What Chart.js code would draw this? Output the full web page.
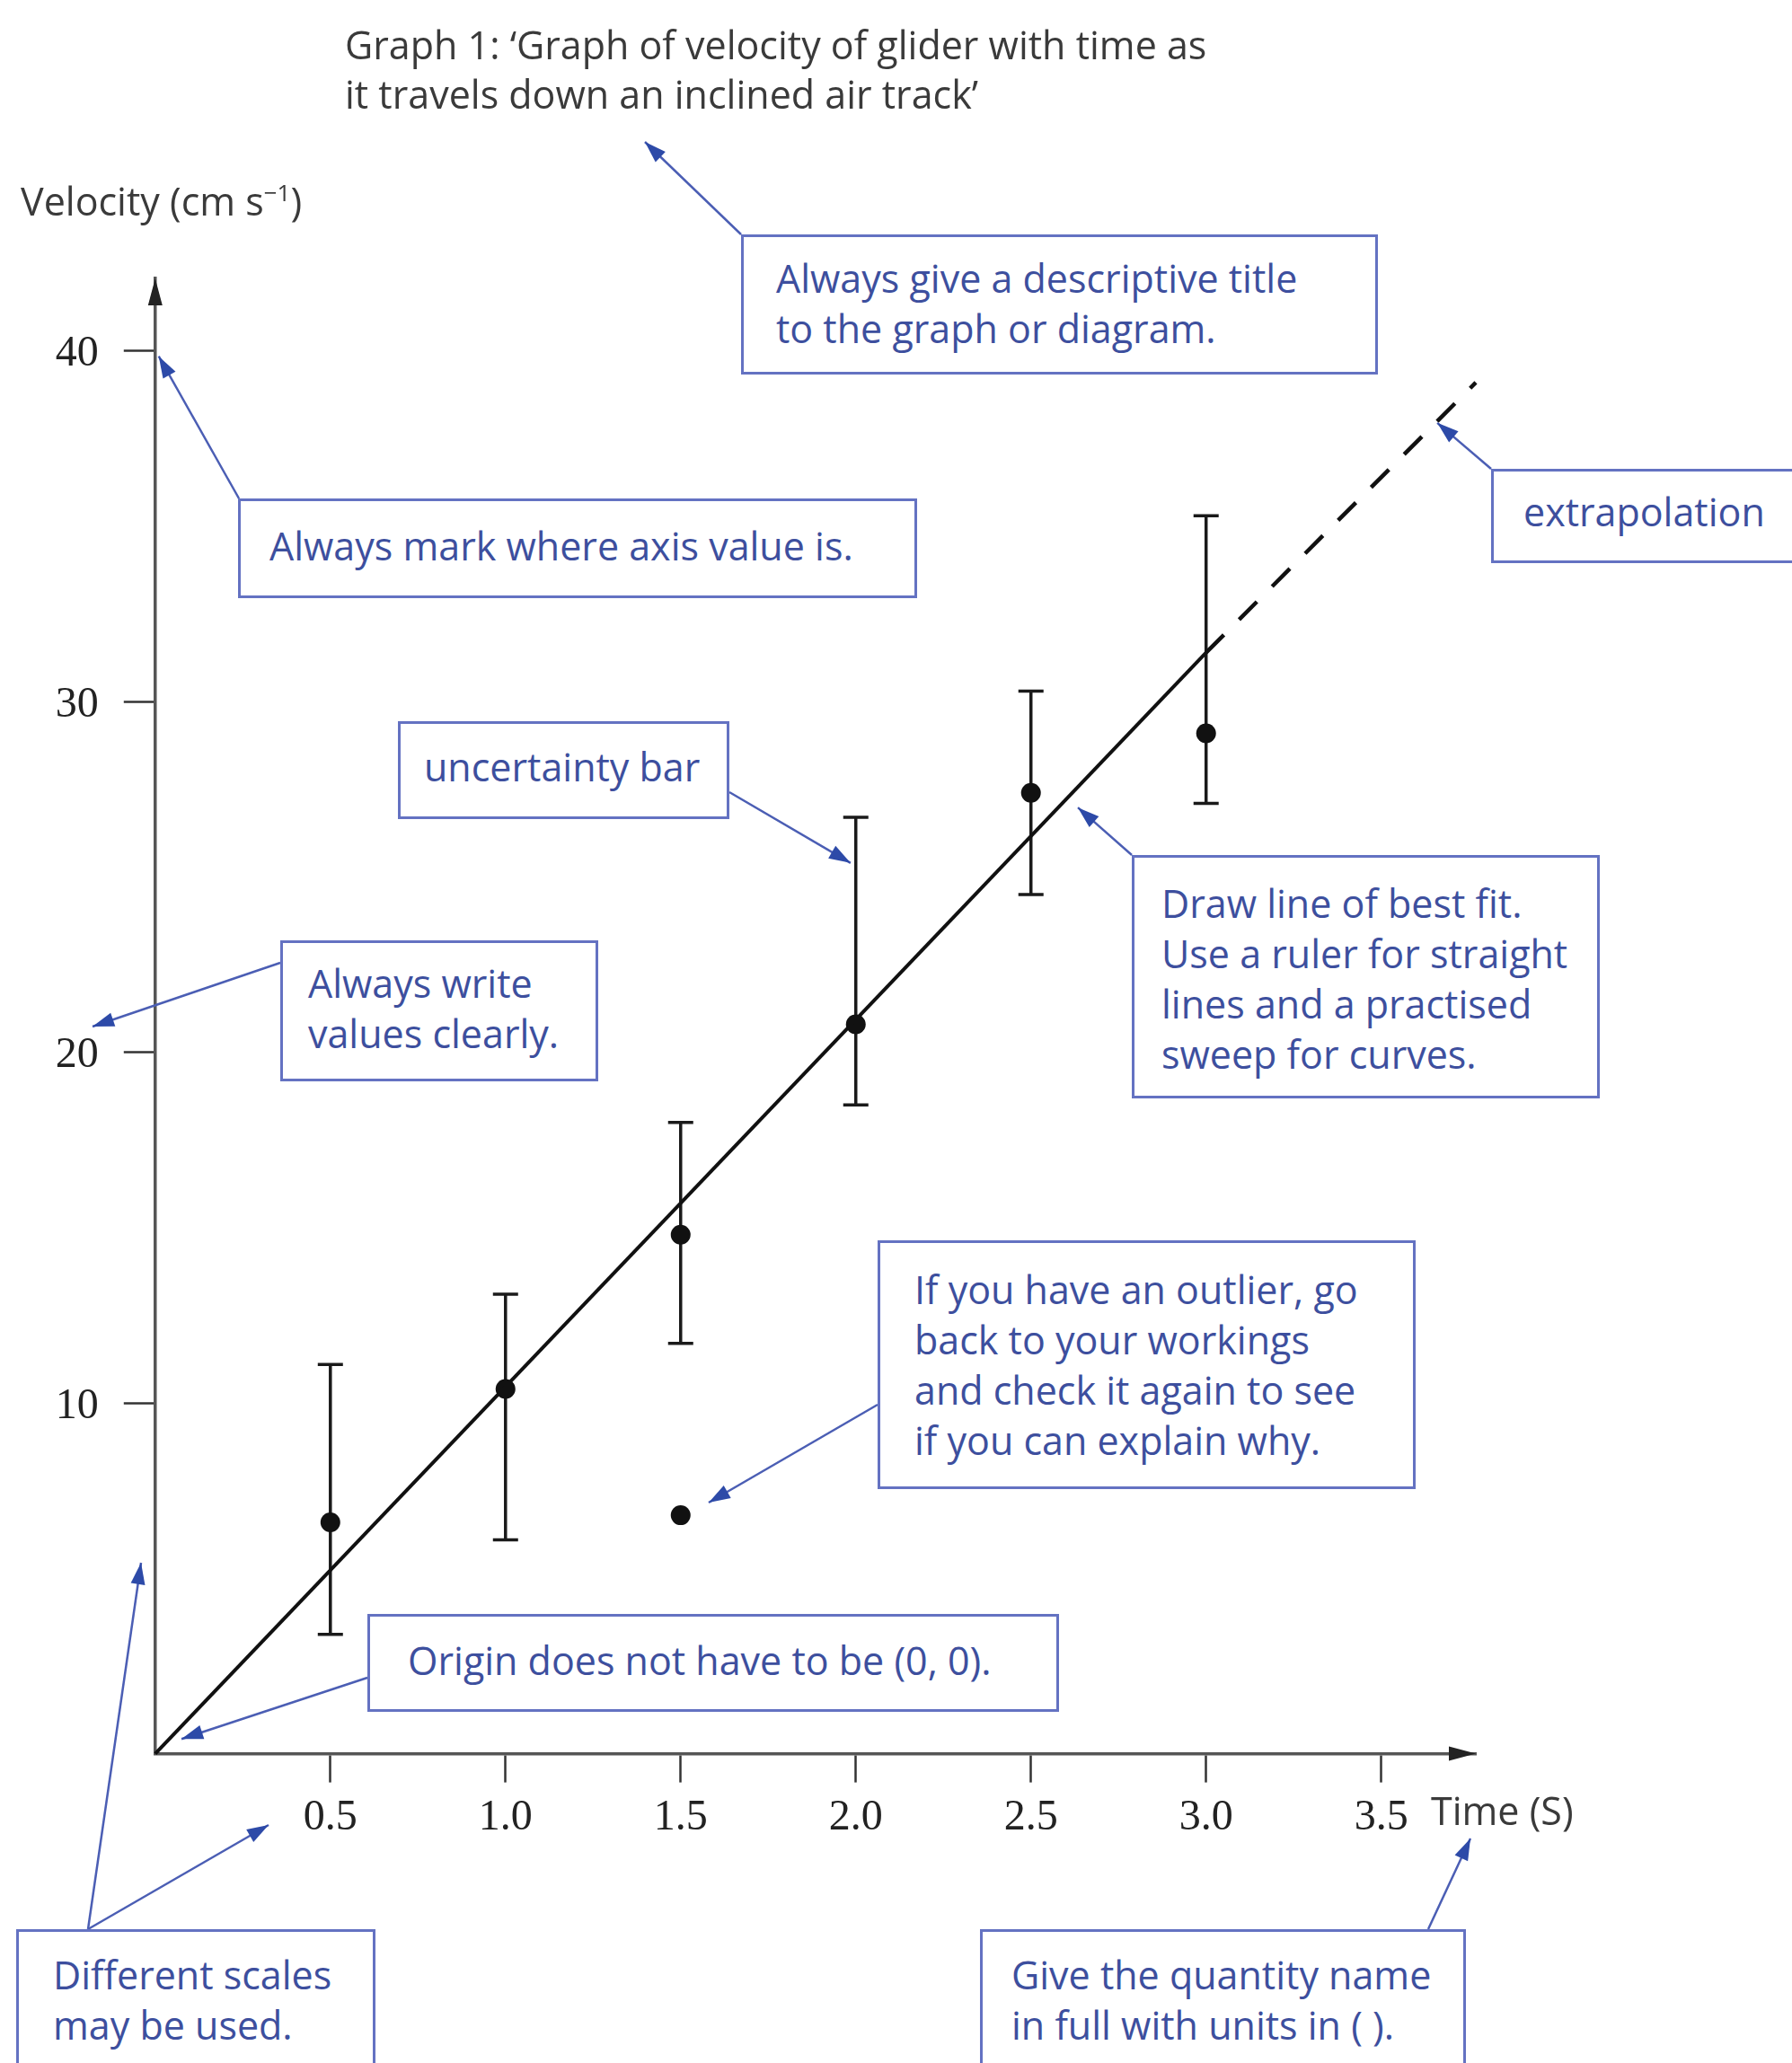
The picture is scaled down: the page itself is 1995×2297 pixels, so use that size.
<!DOCTYPE html>
<html>
<head>
<meta charset="utf-8">
<script src="https://cdn.jsdelivr.net/npm/chart.js@4.4.1/dist/chart.umd.min.js"></script>
<style>
  body { margin: 0; background: #fff; }
  #wrap { position: relative; width: 1995px; height: 2297px; overflow: hidden; font-family: "Open Sans", sans-serif; }
  #chart { position: absolute; left: 0; top: 0; }
  .note { position: absolute; box-sizing: border-box; border: 3px solid #6472c2; background: #fff;
          color: #3d4f9e; font-size: 43px; line-height: 56px; white-space: nowrap; }
  .lbl { position: absolute; color: #3a3a3a; font-size: 43px; line-height: 55px; white-space: nowrap; }
  sup { font-size: 26px; line-height: 0; vertical-align: 16px; }
</style>
</head>
<body>
<div id="wrap">
  <canvas id="chart" width="1995" height="2297"></canvas>

  <div class="lbl" style="left:384px; top:22px;">Graph 1: ‘Graph of velocity of glider with time as<br>it travels down an inclined air track’</div>
  <div class="lbl" style="left:23px; top:196px;">Velocity (cm s<sup>−1</sup>)</div>
  <div class="lbl" style="left:1593px; top:1988px;">Time (S)</div>

  <div class="note" style="left:825px; top:261px; width:709px; height:156px; padding:18px 0 0 36px;">Always give a descriptive title<br>to the graph or diagram.</div>
  <div class="note" style="left:265px; top:555px; width:756px; height:111px; padding:22px 0 0 32px;">Always mark where axis value is.</div>
  <div class="note" style="left:1660px; top:522px; width:400px; height:105px; padding:17px 0 0 33px;">extrapolation</div>
  <div class="note" style="left:443px; top:803px; width:369px; height:109px; padding:20px 0 0 26px;">uncertainty bar</div>
  <div class="note" style="left:1260px; top:952px; width:521px; height:271px; padding:23px 0 0 30px;">Draw line of best fit.<br>Use a ruler for straight<br>lines and a practised<br>sweep for curves.</div>
  <div class="note" style="left:312px; top:1047px; width:354px; height:157px; padding:17px 0 0 28px;">Always write<br>values clearly.</div>
  <div class="note" style="left:977px; top:1381px; width:599px; height:277px; padding:24px 0 0 38px;">If you have an outlier, go<br>back to your workings<br>and check it again to see<br>if you can explain why.</div>
  <div class="note" style="left:409px; top:1797px; width:770px; height:109px; padding:21px 0 0 42px;">Origin does not have to be (0, 0).</div>
  <div class="note" style="left:18px; top:2148px; width:400px; height:200px; padding:20px 0 0 38px;">Different scales<br>may be used.</div>
  <div class="note" style="left:1091px; top:2148px; width:541px; height:200px; padding:20px 0 0 32px;">Give the quantity name<br>in full with units in ( ).</div>
</div>

<script>
// ---------- data ----------
const timeS = [0.5, 1.0, 1.5, 2.0, 2.5, 3.0];
const velocity = [6.6, 10.4, 14.8, 20.8, 27.4, 29.1];
const errLow = [3.4, 6.1, 11.7, 18.5, 24.5, 27.1];
const errHigh = [11.1, 13.1, 18.0, 26.7, 30.3, 35.3];

const outlierTime = [1.5];
const outlierVelocity = [6.8];

// line of best fit and its dashed extrapolation
const fitTime = [0, 3.0];
const fitVelocity = [0, 31.4];
const extrapTime = [3.0, 3.77];
const extrapVelocity = [31.4, 39.1];

const xTicks = [0.5, 1.0, 1.5, 2.0, 2.5, 3.0, 3.5];
const yTicks = [10, 20, 30, 40];

// ---------- annotation arrows (tail in page px, tip in px or data units) ----------
const arrows = [
  { from: [825, 261], toPx: [718, 158] },
  { from: [266, 555], toData: [0.01, 39.85] },
  { from: [1660, 522], toData: [3.66, 37.95] },
  { from: [812, 882], toData: [1.985, 25.4] },
  { from: [1260, 952], toData: [2.634, 26.98] },
  { from: [312, 1072], toPx: [103, 1143] },
  { from: [977, 1564], toData: [1.58, 7.16] },
  { from: [409, 1868], toData: [0.075, 0.42] },
  { from: [98, 2148], toPx: [157, 1740] },
  { from: [98, 2148], toPx: [299, 2032] },
  { from: [1590, 2148], toPx: [1637, 2047] }
];

const toPoints = (xs, ys) => xs.map((x, i) => ({ x: x, y: ys[i] }));

// draw a filled arrowhead at (x2, y2) pointing away from (x1, y1)
function arrowHead(ctx, x1, y1, x2, y2, len, half) {
  const a = Math.atan2(y2 - y1, x2 - x1);
  ctx.beginPath();
  ctx.moveTo(x2, y2);
  ctx.lineTo(x2 - len * Math.cos(a) + half * Math.sin(a), y2 - len * Math.sin(a) - half * Math.cos(a));
  ctx.lineTo(x2 - len * Math.cos(a) - half * Math.sin(a), y2 - len * Math.sin(a) + half * Math.cos(a));
  ctx.closePath();
  ctx.fill();
}

// uncertainty bars, drawn under the points
const errorBars = {
  id: 'errorBars',
  beforeDatasetsDraw(chart) {
    const { ctx, scales: { x, y } } = chart;
    ctx.save();
    ctx.strokeStyle = '#1a1a1a';
    ctx.lineWidth = 3.5;
    timeS.forEach((t, i) => {
      const px = x.getPixelForValue(t);
      const top = y.getPixelForValue(errHigh[i]);
      const bot = y.getPixelForValue(errLow[i]);
      ctx.beginPath();
      ctx.moveTo(px, top); ctx.lineTo(px, bot);
      ctx.moveTo(px - 14, top); ctx.lineTo(px + 14, top);
      ctx.moveTo(px - 14, bot); ctx.lineTo(px + 14, bot);
      ctx.stroke();
    });
    ctx.restore();
  }
};

// arrowheads on the axes and the blue pointer arrows
const extras = {
  id: 'extras',
  afterDraw(chart) {
    const { ctx, chartArea: area, scales: { x, y } } = chart;
    ctx.save();
    ctx.fillStyle = '#222';
    arrowHead(ctx, area.left, area.bottom, area.right, area.bottom, 30, 8);
    arrowHead(ctx, area.left, area.bottom, area.left, area.top, 30, 8);

    ctx.strokeStyle = '#4b5eb4';
    ctx.fillStyle = '#2d4aa8';
    ctx.lineWidth = 2.5;
    arrows.forEach(a => {
      const [x1, y1] = a.from;
      const x2 = a.toData ? x.getPixelForValue(a.toData[0]) : a.toPx[0];
      const y2 = a.toData ? y.getPixelForValue(a.toData[1]) : a.toPx[1];
      ctx.beginPath();
      ctx.moveTo(x1, y1);
      ctx.lineTo(x2, y2);
      ctx.stroke();
      arrowHead(ctx, x1, y1, x2, y2, 24, 8);
    });
    ctx.restore();
  }
};

new Chart(document.getElementById('chart'), {
  type: 'scatter',
  data: {
    datasets: [
      {
        label: 'Line of best fit',
        data: toPoints(fitTime, fitVelocity),
        showLine: true,
        borderColor: '#111',
        borderWidth: 4,
        pointRadius: 0,
        clip: false
      },
      {
        label: 'Extrapolation',
        data: toPoints(extrapTime, extrapVelocity),
        showLine: true,
        borderColor: '#111',
        borderWidth: 4.5,
        borderDash: [28, 24],
        pointRadius: 0,
        clip: false
      },
      {
        label: 'Measured',
        data: toPoints(timeS, velocity),
        pointRadius: 11,
        pointBackgroundColor: '#111',
        pointBorderWidth: 0
      },
      {
        label: 'Outlier',
        data: toPoints(outlierTime, outlierVelocity),
        pointRadius: 11,
        pointBackgroundColor: '#111',
        pointBorderWidth: 0
      }
    ]
  },
  options: {
    responsive: false,
    animation: false,
    events: [],
    layout: { padding: { left: 22.8, right: 352, top: 310, bottom: 244.4 } },
    plugins: { legend: { display: false }, tooltip: { enabled: false } },
    scales: {
      x: {
        type: 'linear',
        min: 0,
        max: 3.77,
        afterBuildTicks: s => { s.ticks = xTicks.map(v => ({ value: v })); },
        afterFit: s => { s.height = 100; },
        grid: { drawOnChartArea: false, drawTicks: true, tickLength: 32, tickWidth: 2.5, tickColor: '#333' },
        border: { display: true, color: '#555', width: 3.5 },
        ticks: {
          autoSkip: false,
          maxRotation: 0,
          padding: 11,
          color: '#222',
          font: { family: '"Liberation Serif", serif', size: 48 },
          callback: v => v.toFixed(1)
        }
      },
      y: {
        type: 'linear',
        min: 0,
        max: 42.07,
        afterBuildTicks: s => { s.ticks = yTicks.map(v => ({ value: v })); },
        afterFit: s => { s.width = 150; },
        grid: { drawOnChartArea: false, drawTicks: true, tickLength: 35, tickWidth: 2.5, tickColor: '#333' },
        border: { display: true, color: '#555', width: 3.5 },
        ticks: {
          padding: 28,
          labelOffset: 4,
          color: '#222',
          font: { family: '"Liberation Serif", serif', size: 48 },
          callback: v => String(v)
        }
      }
    }
  },
  plugins: [errorBars, extras]
});
</script>
</body>
</html>
